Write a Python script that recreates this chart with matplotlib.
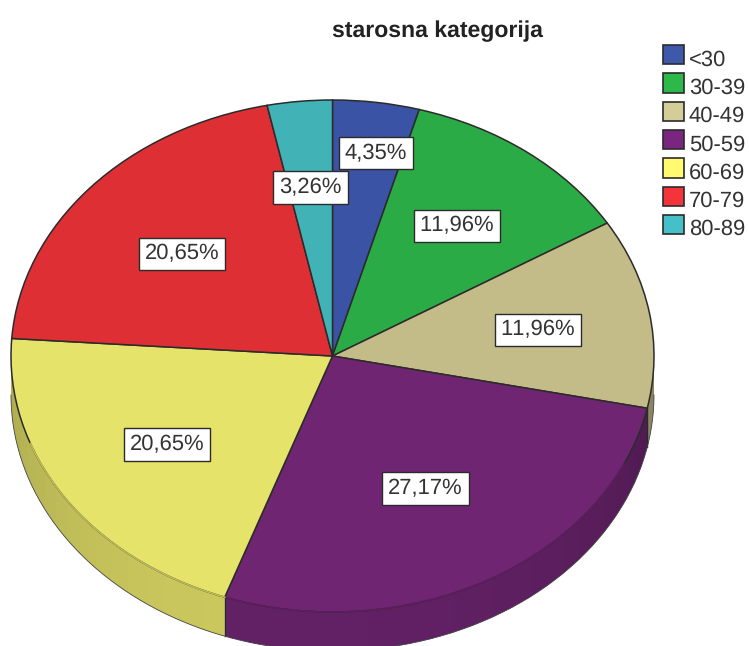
import numpy as np
import matplotlib
matplotlib.use("Agg")
import matplotlib.pyplot as plt
from matplotlib.patches import Patch

plt.rcParams['font.family'] = ['Liberation Sans', 'DejaVu Sans']
plt.rcParams['text.kerning_factor'] = 6
plt.rcParams['text.hinting'] = 'none'
plt.rcParams['text.hinting_factor'] = 1

categories = ['<30', '30-39', '40-49', '50-59', '60-69', '70-79', '80-89']
values = [4.35, 11.96, 11.96, 27.17, 20.65, 20.65, 3.26]
colors = ['#3A53A4', '#2BAB45', '#C3BC88', '#702573', '#E6E36A', '#DE2F34', '#41B3B7']
legend_colors = ['#3E58AC', '#2DB84A', '#D3CE97', '#7A2680', '#FFFA70', '#F5333A', '#45C0C8']
# where the percent boxes sit, in pixels of the picture
label_pos = [(376, 153), (457, 226), (538, 330), (425.5, 488.5), (167, 444.5), (182, 254), (310.5, 187.5)]

W, H = 749, 646
cx, cy = 332.5, 356
rx, ry = 321.5, 256
depth = 39
dark = '#2b2b2b'

fig = plt.figure(figsize=(W / 100, H / 100), dpi=100)
ax = fig.add_axes([0, 0, 1, 1])

# the pie is a unit circle, the axis limits squash it to an ellipse
wedges, _ = ax.pie(values, colors=colors, startangle=90, counterclock=False, radius=1,
                   wedgeprops={'edgecolor': dark, 'linewidth': 1.1, 'zorder': 3})
ax.set_aspect('auto')
ax.set_xlim(-cx / rx, (W - cx) / rx)
ax.set_ylim(-(H - cy) / ry, cy / ry)
ax.axis('off')


def wall_shade(angle):
    return 0.72 + 0.16 * np.cos(np.radians(angle - 190))


# side wall, only the front half (90..270 deg clockwise from the top) shows
edges = np.cumsum([0] + values) / sum(values) * 360
d = depth / ry
for i in range(len(values)):
    lo = max(edges[i], 90)
    hi = min(edges[i + 1], 270)
    if hi <= lo:
        continue
    steps = np.append(np.arange(lo, hi, 4), hi)
    rgb = np.array(matplotlib.colors.to_rgb(colors[i]))
    for a, b in zip(steps[:-1], steps[1:]):
        # a bit of overlap so no seam shows between the facets
        t = np.radians(np.linspace(a, min(b + 1, hi), 6))
        x = np.sin(t)
        y = np.cos(t)
        ax.fill(np.r_[x, x[::-1]], np.r_[y, y[::-1] - d], color=rgb * wall_shade((a + b) / 2), lw=0, zorder=1)
    # soften the rim where the top meets the wall
    lo2 = max(lo, 115)
    hi2 = min(hi, 250)
    if hi2 > lo2:
        t = np.radians(np.linspace(lo2, hi2, 60))
        ax.plot(np.sin(t), np.cos(t), color=rgb * 0.82, lw=1.2, zorder=4)
    if 90 < edges[i + 1] < 270:
        t = np.radians(edges[i + 1])
        ax.plot([np.sin(t)] * 2, [np.cos(t), np.cos(t) - d], color=dark, lw=1.0, zorder=2)

t = np.radians(np.linspace(90, 270, 200))
ax.plot(np.sin(t), np.cos(t) - d, color='#444444', lw=0.6, zorder=2)

for v, (px, py) in zip(values, label_pos):
    txt = f'{v:.2f}'.replace('.', ',') + '%'
    fig.text(px / W, 1 - py / H, txt, fontsize=15.8, color='#333333', ha='center', va='center',
             zorder=5, bbox={'boxstyle': 'square,pad=0.27', 'facecolor': 'white',
                             'edgecolor': dark, 'linewidth': 1.0})

fig.text(437 / W, 1 - 31 / H, 'starosna kategorija', fontsize=16.5, fontweight='bold',
         color='#222222', ha='center', va='center')

handles = [Patch(facecolor=c, edgecolor=dark, linewidth=1.2) for c in legend_colors]
leg = fig.legend(handles, categories, loc='upper left', bbox_to_anchor=(663 / W, 1 - 45 / H),
                 frameon=False, fontsize=16.2, labelcolor='#333333', borderaxespad=0, borderpad=0,
                 handlelength=0.95, handleheight=0.95, handletextpad=0.2, labelspacing=0.28)
for item in leg.get_texts():
    item.set_y(-3)

fig.savefig('out.png', dpi=100)
